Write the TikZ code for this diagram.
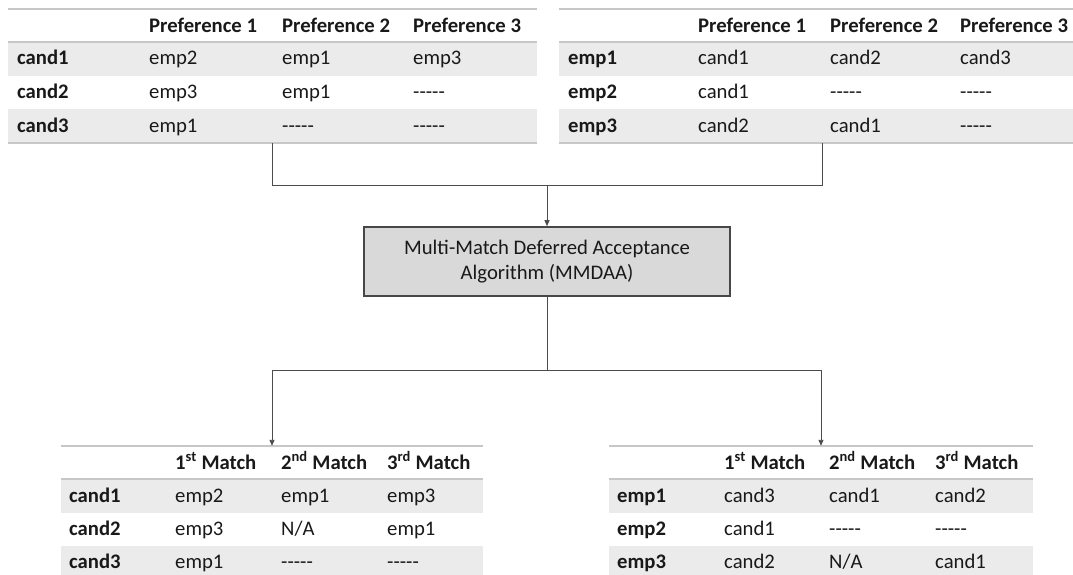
\documentclass[tikz,border=0pt]{standalone}
\usepackage{fontspec}
\setmainfont{Carlito}
\usetikzlibrary{arrows.meta, positioning}
\newcommand{\nomatch}{-{}-{}-{}-{}-}
\newcommand{\cellsize}{\fontsize{20.7}{25.4}\selectfont}

\begin{document}
\begin{tikzpicture}[x=1pt, y=-1pt, font=\cellsize,
  cell/.style={anchor=base west, inner sep=0pt, text=black!90},
  headcell/.style={cell, font=\cellsize\bfseries},
  shade/.style={fill=black!8},
  tabrule/.style={draw=black!22, line width=1.6pt},
  tablebox/.style={inner sep=0pt, minimum height=134pt},
  algobox/.style={draw=black!72, line width=1.6pt, fill=black!15, text=black!90, minimum width=366pt, minimum height=69pt, align=center, inner sep=0pt},
  flow/.style={draw=black!70, line width=0.9pt},
  tip/.style={-{Triangle[length=6pt, width=5pt]}}]
  \useasboundingbox (0,0) rectangle (1073,575);

  % Candidate preferences
  \node[tablebox, minimum width=529pt] (candpref) at (272.5,76) {};
  \fill[shade] (8,42) rectangle (537,76);
  \fill[shade] (8,109) rectangle (537,143);
  \draw[tabrule] (8,9) -- (537,9);
  \draw[tabrule] (8,42) -- (537,42);
  \draw[tabrule] (8,143) -- (537,143);
  \node[headcell] (cp-h1) at (149,33) {Preference 1};
  \node[headcell] (cp-h2) at (282,33) {Preference 2};
  \node[headcell] (cp-h3) at (413,33) {Preference 3};
  \foreach \who/\a/\b/\c [count=\r] in {cand1/emp2/emp1/emp3, cand2/emp3/emp1/\nomatch, cand3/emp1/\nomatch/\nomatch} {
    \node[headcell] (cp-\r-0) at (17,{31.5+33.5*\r}) {\who};
    \node[cell] (cp-\r-1) at (149,{31.5+33.5*\r}) {\a};
    \node[cell] (cp-\r-2) at (282,{31.5+33.5*\r}) {\b};
    \node[cell] (cp-\r-3) at (413,{31.5+33.5*\r}) {\c};
  }

  % Employer preferences
  \node[tablebox, minimum width=526pt] (emppref) at (822,76) {};
  \fill[shade] (559,42) rectangle (1085,76);
  \fill[shade] (559,109) rectangle (1085,143);
  \draw[tabrule] (559,9) -- (1085,9);
  \draw[tabrule] (559,42) -- (1085,42);
  \draw[tabrule] (559,143) -- (1085,143);
  \node[headcell] (ep-h1) at (698,33) {Preference 1};
  \node[headcell] (ep-h2) at (830,33) {Preference 2};
  \node[headcell] (ep-h3) at (960,33) {Preference 3};
  \foreach \who/\a/\b/\c [count=\r] in {emp1/cand1/cand2/cand3, emp2/cand1/\nomatch/\nomatch, emp3/cand2/cand1/\nomatch} {
    \node[headcell] (ep-\r-0) at (568,{31.5+33.5*\r}) {\who};
    \node[cell] (ep-\r-1) at (698,{31.5+33.5*\r}) {\a};
    \node[cell] (ep-\r-2) at (830,{31.5+33.5*\r}) {\b};
    \node[cell] (ep-\r-3) at (960,{31.5+33.5*\r}) {\c};
  }

  % Algorithm
  \node[algobox] (mmdaa) at (547,261.5) {Multi-Match Deferred Acceptance\\Algorithm (MMDAA)};

  % Candidate matches
  \node[tablebox, minimum width=422pt] (candmatch) at (272,513) {};
  \fill[shade] (61,479) rectangle (483,513);
  \fill[shade] (61,546) rectangle (483,580);
  \draw[tabrule] (61,446) -- (483,446);
  \draw[tabrule] (61,479) -- (483,479);
  \node[headcell] (cm-h1) at (175,469) {1\textsuperscript{st} Match};
  \node[headcell] (cm-h2) at (281,469) {2\textsuperscript{nd} Match};
  \node[headcell] (cm-h3) at (387,469) {3\textsuperscript{rd} Match};
  \foreach \who/\a/\b/\c [count=\r] in {cand1/emp2/emp1/emp3, cand2/emp3/N\slash A/emp1, cand3/emp1/\nomatch/\nomatch} {
    \node[headcell] (cm-\r-0) at (69,{469+33*\r}) {\who};
    \node[cell] (cm-\r-1) at (175,{469+33*\r}) {\a};
    \node[cell] (cm-\r-2) at (281,{469+33*\r}) {\b};
    \node[cell] (cm-\r-3) at (387,{469+33*\r}) {\c};
  }

  % Employer matches
  \node[tablebox, minimum width=424pt] (empmatch) at (821,513) {};
  \fill[shade] (609,479) rectangle (1033,513);
  \fill[shade] (609,546) rectangle (1033,580);
  \draw[tabrule] (609,446) -- (1033,446);
  \draw[tabrule] (609,479) -- (1033,479);
  \node[headcell] (em-h1) at (724,469) {1\textsuperscript{st} Match};
  \node[headcell] (em-h2) at (829,469) {2\textsuperscript{nd} Match};
  \node[headcell] (em-h3) at (935,469) {3\textsuperscript{rd} Match};
  \foreach \who/\a/\b/\c [count=\r] in {emp1/cand3/cand1/cand2, emp2/cand1/\nomatch/\nomatch, emp3/cand2/N\slash A/cand1} {
    \node[headcell] (em-\r-0) at (617,{469+33*\r}) {\who};
    \node[cell] (em-\r-1) at (724,{469+33*\r}) {\a};
    \node[cell] (em-\r-2) at (829,{469+33*\r}) {\b};
    \node[cell] (em-\r-3) at (935,{469+33*\r}) {\c};
  }

  % Connectors
  \coordinate (join) at (547,185);
  \coordinate (fork) at (547,370);
  \draw[flow] (candpref.south) |- (join);
  \draw[flow] (emppref.south) |- (join);
  \draw[flow, tip] (join) -- (mmdaa.north);
  \draw[flow] (mmdaa.south) -- (fork);
  \draw[flow, tip] (fork) -| (candmatch.north);
  \draw[flow, tip] (fork) -| (empmatch.north);
\end{tikzpicture}
\end{document}
